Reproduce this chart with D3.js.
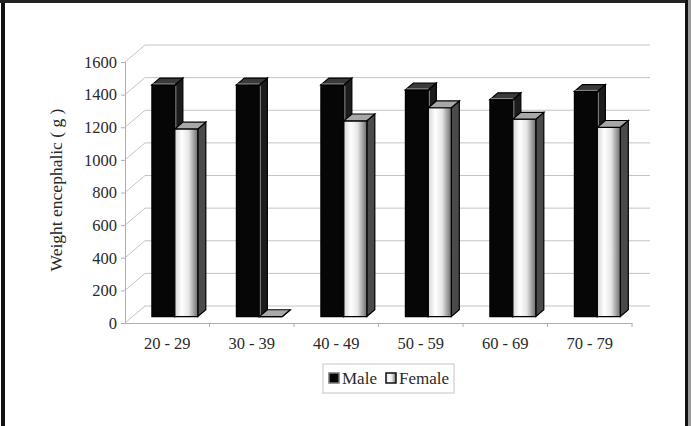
<!DOCTYPE html>
<html>
<head>
<meta charset="utf-8">
<script src="https://cdn.jsdelivr.net/npm/d3@7"></script>
<style>
  body { margin: 0; background: #fff; }
  svg text { font-family: "Liberation Serif", "Times New Roman", serif; fill: #2a2a2a; }
</style>
</head>
<body>
<div id="chart"></div>
<script>
// data
var categories = ["20 - 29", "30 - 39", "40 - 49", "50 - 59", "60 - 69", "70 - 79"];
var seriesNames = ["Male", "Female"];
var maleValues = [1420, 1420, 1420, 1390, 1330, 1380];
var femaleValues = [1150, 0, 1200, 1280, 1210, 1160];
var yTicks = [0, 200, 400, 600, 800, 1000, 1200, 1400, 1600];

var width = 691, height = 426;
// 3d depth of the plot box (back wall offset)
var DX = 20, DY = -17;
var barFront = 0.38, barBack = 0.78;
var serif = "'Liberation Serif', 'Times New Roman', serif";

var svg = d3.select("#chart").append("svg")
  .attr("width", width)
  .attr("height", height);

var defs = svg.append("defs");
var grad = defs.append("linearGradient").attr("id", "femGrad")
  .attr("x1", "0%").attr("x2", "100%").attr("y1", "0%").attr("y2", "0%");
grad.append("stop").attr("offset", "0%").attr("stop-color", "#d5d5d5");
grad.append("stop").attr("offset", "30%").attr("stop-color", "#ffffff");
grad.append("stop").attr("offset", "60%").attr("stop-color", "#e6e6e6");
grad.append("stop").attr("offset", "100%").attr("stop-color", "#6c6c6c");

var x = d3.scaleBand().domain(categories).range([125, 632]);
var xs = d3.scaleBand().domain(seriesNames).range([0, x.bandwidth()])
  .paddingInner(0).paddingOuter(0.84);
var y = d3.scaleLinear().domain([0, 1600]).range([323, 62]);

function pt(px, v, t) {
  return [px + t * DX, y(v) + t * DY];
}
function poly(points) {
  return points.map(function (p) { return p[0] + "," + p[1]; }).join(" ");
}

var grid = svg.append("g").attr("class", "grid");
// back wall lines
grid.selectAll(".back").data(yTicks).enter().append("line")
  .attr("x1", 125 + DX).attr("x2", 650)
  .attr("y1", function (d) { return y(d) + DY; })
  .attr("y2", function (d) { return y(d) + DY; })
  .attr("stroke", "#c4c4c4").attr("stroke-width", 1);
// side wall lines
grid.selectAll(".side").data(yTicks).enter().append("line")
  .attr("x1", 125).attr("x2", 125 + DX)
  .attr("y1", function (d) { return y(d); })
  .attr("y2", function (d) { return y(d) + DY; })
  .attr("stroke", "#c4c4c4").attr("stroke-width", 1);

// y axis (front)
var yAxis = svg.append("g")
  .attr("transform", "translate(125,0)")
  .call(d3.axisLeft(y).tickValues(yTicks).tickFormat(d3.format("d")).tickSize(4).tickPadding(4));
yAxis.attr("font-family", serif);
yAxis.select(".domain").attr("stroke", "#b0b0b0");
yAxis.selectAll(".tick line").attr("stroke", "#b0b0b0");
yAxis.selectAll("text").style("font-size", "16.5px").style("font-family", serif).attr("fill", "#2a2a2a");

// x axis (front floor)
var xAxis = svg.append("g")
  .attr("transform", "translate(0,323)")
  .call(d3.axisBottom(x).tickSize(0).tickPadding(14));
xAxis.attr("font-family", serif);
xAxis.select(".domain").attr("stroke", "#b0b0b0");
xAxis.selectAll("text").style("font-size", "16.5px").style("font-family", serif).attr("fill", "#2a2a2a");
svg.append("g").selectAll("line")
  .data(categories.slice(1).concat(["end"])).enter().append("line")
  .attr("x1", function (d, i) { return x.range()[0] + (i + 1) * x.step(); })
  .attr("x2", function (d, i) { return x.range()[0] + (i + 1) * x.step(); })
  .attr("y1", 323).attr("y2", 327)
  .attr("stroke", "#b0b0b0");

// bars
var bars = [];
categories.forEach(function (c, i) {
  bars.push({ cat: c, s: "Male", value: maleValues[i] });
  bars.push({ cat: c, s: "Female", value: femaleValues[i] });
});

var bw = xs.bandwidth();
var barG = svg.append("g").selectAll("g").data(bars).enter().append("g");

barG.each(function (d) {
  var g = d3.select(this);
  var x0 = x(d.cat) + xs(d.s), x1 = x0 + bw;
  var male = d.s === "Male";
  var f0 = pt(x0, 0, barFront), f1 = pt(x1, 0, barFront);
  var ft0 = pt(x0, d.value, barFront), ft1 = pt(x1, d.value, barFront);
  var b1 = pt(x1, 0, barBack), bt0 = pt(x0, d.value, barBack), bt1 = pt(x1, d.value, barBack);
  // side face
  g.append("polygon")
    .attr("points", poly([f1, b1, bt1, ft1]))
    .attr("fill", male ? "#1c1c1c" : "#4a4a4a")
    .attr("stroke", "#000").attr("stroke-width", 1.2);
  // front face
  g.append("polygon")
    .attr("points", poly([f0, f1, ft1, ft0]))
    .attr("fill", male ? "#060606" : "url(#femGrad)")
    .attr("stroke", "#000").attr("stroke-width", 1.2);
  // top face
  g.append("polygon")
    .attr("points", poly([ft0, ft1, bt1, bt0]))
    .attr("fill", male ? "#3a3a3a" : "#a8a8a8")
    .attr("stroke", "#000").attr("stroke-width", 1.2);
  if (male && d.value > 0) {
    // light edge between front and side
    g.append("line")
      .attr("x1", ft1[0] + 1).attr("y1", ft1[1] + 1)
      .attr("x2", f1[0] + 1).attr("y2", f1[1] - 1)
      .attr("stroke", "#8a8a8a").attr("stroke-width", 1);
    g.append("line")
      .attr("x1", ft0[0] + 1).attr("y1", ft0[1] - 1)
      .attr("x2", ft1[0]).attr("y2", ft1[1] - 1)
      .attr("stroke", "#8a8a8a").attr("stroke-width", 1);
  }
});

// axis title
svg.append("text")
  .attr("transform", "translate(62,190) rotate(-90)")
  .attr("text-anchor", "middle")
  .style("font-size", "17.5px")
  .text("Weight encephalic ( g )");

// legend
var legend = svg.append("g").attr("transform", "translate(323,364)");
legend.append("rect")
  .attr("width", 131).attr("height", 29)
  .attr("fill", "#fff").attr("stroke", "#c4c4c4");
var legendX = [6, 63];
var legendItems = legend.selectAll(".item").data(seriesNames).enter().append("g")
  .attr("transform", function (d, i) { return "translate(" + legendX[i] + ",9)"; });
legendItems.append("rect")
  .attr("width", 10).attr("height", 10)
  .attr("fill", function (d) { return d === "Male" ? "#060606" : "url(#femGrad)"; })
  .attr("stroke", function (d) { return d === "Male" ? "#777" : "#111"; })
  .attr("stroke-width", 1.5);
legendItems.append("text")
  .attr("x", 13).attr("y", 10.5)
  .style("font-size", "17px")
  .text(function (d) { return d; });

// outer frame
svg.append("line").attr("x1", 3).attr("x2", 3).attr("y1", 0).attr("y2", height)
  .attr("stroke", "#111").attr("stroke-width", 4);
svg.append("line").attr("x1", 0).attr("x2", 688).attr("y1", 1.5).attr("y2", 1.5)
  .attr("stroke", "#222").attr("stroke-width", 3);
svg.append("line").attr("x1", 686.5).attr("x2", 686.5).attr("y1", 0).attr("y2", height)
  .attr("stroke", "#111").attr("stroke-width", 3);
svg.append("rect").attr("x", 688).attr("y", 0).attr("width", 3).attr("height", height)
  .attr("fill", "#9a9a9a");
</script>
</body>
</html>
